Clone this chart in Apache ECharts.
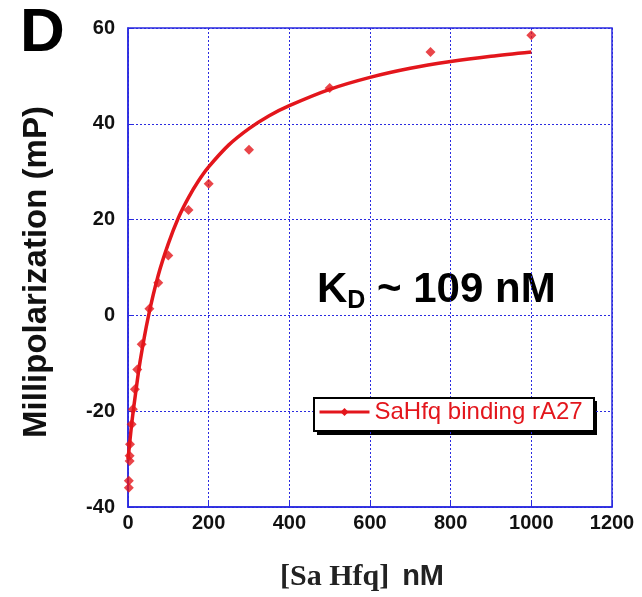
<!DOCTYPE html>
<html>
<head>
<meta charset="utf-8">
<script src="https://cdn.jsdelivr.net/npm/echarts@6/dist/echarts.min.js"></script>
<style>
  html, body { margin: 0; padding: 0; background: #fff; }
  #chart { width: 642px; height: 597px; }
</style>
</head>
<body>
<div id="chart"></div>
<script>
// measured points [Sa Hfq] (nM) vs mP
var pointX = [2, 2, 4, 4, 5, 9, 12, 17, 23, 34, 53, 75, 100, 150, 200, 300, 500, 750, 1000];
var pointY = [-36, -34.5, -30.4, -29.3, -26.9, -22.7, -19.6, -15.4, -11.3, -6, 1.4, 6.8, 12.5, 22, 27.5, 34.6, 47.5, 55, 58.5];

// fitted curve
var fitX = [0, 5, 10, 20, 30, 50, 75, 100, 125, 150, 175, 200, 250, 300, 350, 400, 500, 600, 700, 800, 900, 1000];
var fitY = [-30, -26, -22, -15.5, -9.6, -0.4, 8.4, 15, 20.4, 24.6, 28.1, 31, 35.6, 39, 41.7, 43.8, 47.2, 49.7, 51.6, 53, 54.1, 55];

var seriesName = 'SaHfq binding rA27';
var red = '#e3161c';
var blue = '#2a2ae0';

function zip(a, b) {
    var out = [];
    for (var i = 0; i < a.length; i++) out.push([a[i], b[i]]);
    return out;
}

var chart = echarts.init(document.getElementById('chart'));

var option = {
    backgroundColor: '#fff',
    animation: false,
    grid: { left: 128, right: 30, top: 28, bottom: 89, show: true, borderColor: blue, borderWidth: 1.5 },
    xAxis: {
        type: 'value', min: 0, max: 1200, interval: 200,
        axisLine: { onZero: false, lineStyle: { color: blue, width: 1.5 } },
        axisTick: { inside: true, length: 5, lineStyle: { color: blue } },
        splitLine: { show: true, lineStyle: { color: blue, type: [2, 2], width: 1 } },
        axisLabel: {
            color: '#111', fontFamily: 'Liberation Sans', fontWeight: 'bold', fontSize: 20, margin: 6,
            formatter: function (v) { return String(v); }
        },
        name: '{a|[Sa Hfq]}{b|nM}',
        nameLocation: 'middle', nameGap: 55,
        nameTextStyle: {
            padding: [0, 16, 0, 0],
            rich: {
                a: { fontFamily: 'Liberation Serif', fontWeight: 'bold', fontSize: 30, color: '#222' },
                b: { fontFamily: 'Liberation Sans', fontWeight: 'bold', fontSize: 29, color: '#222', padding: [0, 0, 0, 13] }
            }
        }
    },
    yAxis: {
        type: 'value', min: -40, max: 60, interval: 20,
        axisLine: { onZero: false, lineStyle: { color: blue, width: 1.5 } },
        axisTick: { inside: true, length: 5, lineStyle: { color: blue } },
        splitLine: { show: true, lineStyle: { color: blue, type: [2, 2], width: 1 } },
        axisLabel: { color: '#111', fontFamily: 'Liberation Sans', fontWeight: 'bold', fontSize: 20, margin: 13 }
    },
    legend: {
        data: [seriesName],
        left: 318, top: 400,
        padding: 0,
        itemWidth: 50, itemHeight: 10, itemGap: 4,
        lineStyle: { width: 3 },
        textStyle: { color: red, fontFamily: 'Liberation Sans', fontSize: 24 }
    },
    graphic: [
        {
            type: 'rect', left: 317, top: 401, z: 0,
            shape: { width: 280, height: 34 },
            style: { fill: '#000' }
        },
        {
            type: 'rect', left: 313, top: 397, z: 1,
            shape: { width: 280, height: 33 },
            style: { fill: '#fff', stroke: '#000', lineWidth: 2 }
        },
        {
            type: 'text', left: 20, top: 3,
            style: { text: 'D', fontFamily: 'Liberation Sans', fontWeight: 'bold', fontSize: 62, fill: '#000' }
        },
        {
            type: 'text', x: 37, y: 272, rotation: Math.PI / 2,
            style: {
                text: 'Millipolarization (mP)', fontFamily: 'Liberation Sans', fontWeight: 'bold', fontSize: 33,
                fill: '#111', align: 'center', verticalAlign: 'middle'
            }
        },
        {
            type: 'text', left: 317, top: 269,
            style: {
                text: '{k|K}{d|D}{k| ~ 109 nM}',
                rich: {
                    k: { fontFamily: 'Liberation Sans', fontWeight: 'bold', fontSize: 42, color: '#000' },
                    d: { fontFamily: 'Liberation Sans', fontWeight: 'bold', fontSize: 25, color: '#000', padding: [22, 0, 0, 0] }
                }
            }
        }
    ],
    series: [
        {
            name: seriesName,
            type: 'line',
            smooth: 0.3,
            data: zip(fitX, fitY),
            symbol: 'diamond', symbolSize: 9, showSymbol: false,
            lineStyle: { color: red, width: 3.5 },
            itemStyle: { color: red },
            z: 3
        },
        {
            name: 'points',
            type: 'scatter',
            data: zip(pointX, pointY),
            symbol: 'diamond', symbolSize: 10,
            itemStyle: { color: red },
            z: 4
        }
    ]
};

chart.setOption(option);
</script>
</body>
</html>
